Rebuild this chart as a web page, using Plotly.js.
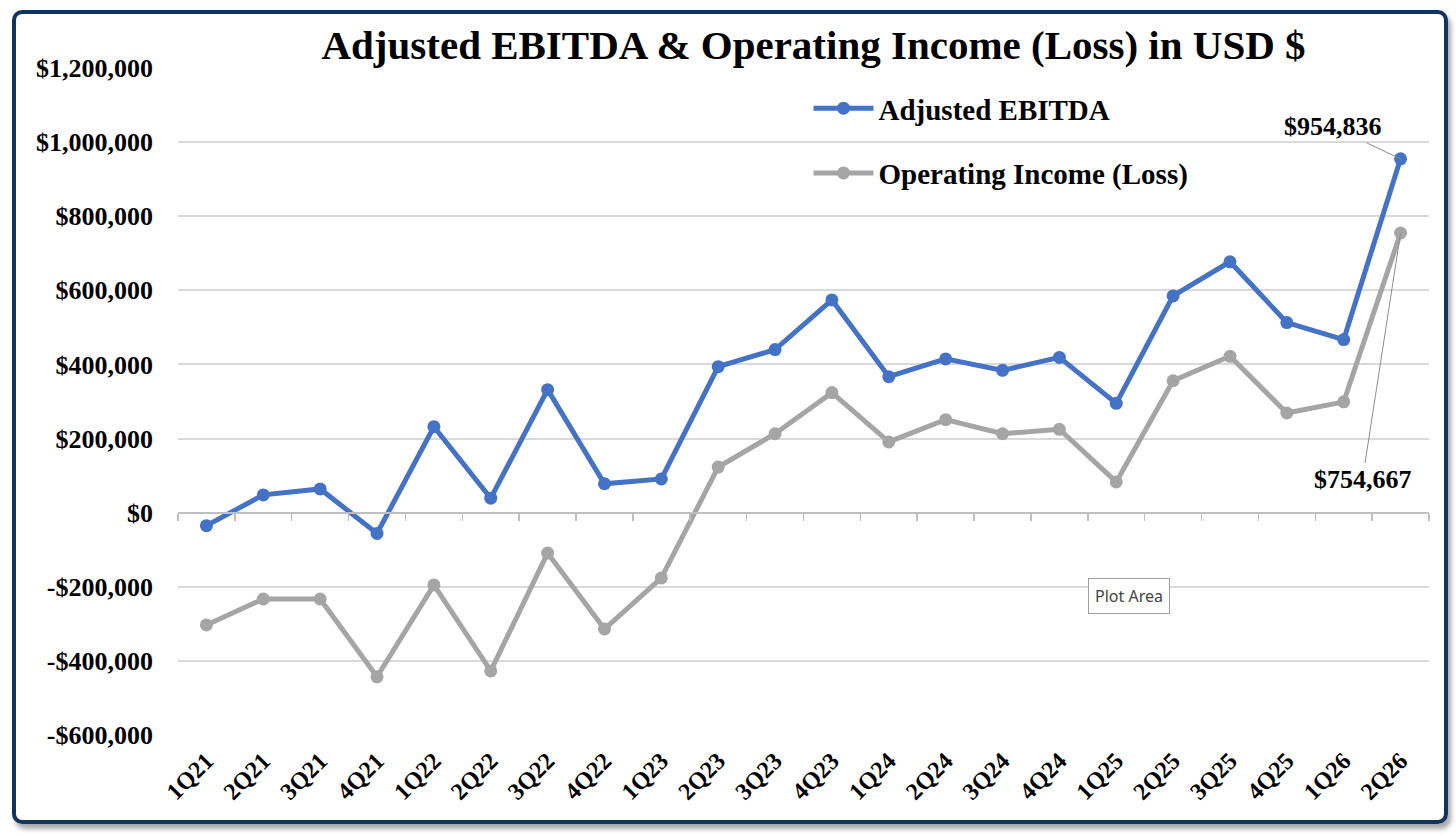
<!DOCTYPE html>
<html>
<head>
<meta charset="utf-8">
<script src="https://cdn.plot.ly/plotly-3.0.1.min.js"></script>
<style>
  html, body { margin: 0; padding: 0; background: #ffffff; }
  #wrap { position: relative; width: 1456px; height: 836px; }
  #chart { position: absolute; left: 0; top: 0; width: 1456px; height: 836px; }
  #frame {
    position: absolute; left: 12px; top: 10px; width: 1428px; height: 806px;
    border: 4px solid #12325f; border-radius: 10px;
    box-shadow: 3px 5px 5px rgba(0,0,0,0.35);
    pointer-events: none;
  }
</style>
</head>
<body>
<div id="wrap">
  <div id="chart"></div>
  <div id="frame"></div>
</div>
<script>
const quarters = ['1Q21','2Q21','3Q21','4Q21','1Q22','2Q22','3Q22','4Q22','1Q23','2Q23','3Q23','4Q23',
                  '1Q24','2Q24','3Q24','4Q24','1Q25','2Q25','3Q25','4Q25','1Q26','2Q26'];
const adjustedEbitda = [-35000, 48000, 64000, -56000, 232000, 39000, 332000, 78000, 91000, 394000, 440000, 574000,
                        367000, 415000, 384000, 419000, 295000, 585000, 677000, 513000, 467000, 954836];
const operatingIncome = [-303000, -233000, -233000, -443000, -195000, -427000, -109000, -314000, -176000, 123000, 213000, 324000,
                         191000, 251000, 213000, 225000, 83000, 356000, 422000, 269000, 299000, 754667];
const yTickVals = [-600000, -400000, -200000, 0, 200000, 400000, 600000, 800000, 1000000, 1200000];
const yTickLabels = ['-$600,000','-$400,000','-$200,000','$0','$200,000','$400,000','$600,000','$800,000','$1,000,000','$1,200,000'];

const SERIF = '"Liberation Serif", "Times New Roman", "DejaVu Serif", serif';
const fmt = v => '$' + v.toLocaleString('en-US');
const last = quarters.length - 1;

const traces = [
  {
    type: 'scatter', mode: 'lines+markers', name: 'Adjusted EBITDA',
    x: quarters, y: adjustedEbitda, xaxis: 'x2', yaxis: 'y',
    line: { color: '#4472C4', width: 5 },
    marker: { color: '#4472C4', size: 13 },
    legend: 'legend', hoverinfo: 'skip'
  },
  {
    type: 'scatter', mode: 'lines+markers', name: 'Operating Income (Loss)',
    x: quarters, y: operatingIncome, xaxis: 'x', yaxis: 'y',
    line: { color: '#A5A5A5', width: 5 },
    marker: { color: '#A5A5A5', size: 13 },
    legend: 'legend2', hoverinfo: 'skip'
  }
];

const legendFont = { family: SERIF, size: 29, color: '#000', weight: 'bold' };

const layout = {
  width: 1456, height: 836,
  margin: { l: 178, r: 27, t: 68, b: 101 },
  paper_bgcolor: 'rgba(0,0,0,0)', plot_bgcolor: 'rgba(0,0,0,0)',
  title: {
    text: 'Adjusted EBITDA & Operating Income (Loss) in USD $',
    font: { family: SERIF, size: 41, color: '#000', weight: 'bold' },
    xref: 'paper', x: 0.508, xanchor: 'center',
    yref: 'container', y: 0.947, yanchor: 'middle'
  },
  // axis line with tick marks at the zero level (no labels)
  xaxis: {
    type: 'category', categoryarray: quarters, range: [-0.5, quarters.length - 0.5],
    anchor: 'free', position: 1/3,
    showgrid: false, zeroline: false, showline: true, linecolor: '#BFBFBF', linewidth: 2,
    ticks: 'outside', tickson: 'boundaries', ticklen: 7, tickwidth: 1.5, tickcolor: '#BFBFBF',
    showticklabels: false
  },
  // category labels at the bottom of the plot area
  xaxis2: {
    type: 'category', categoryarray: quarters, range: [-0.5, quarters.length - 0.5],
    overlaying: 'x', matches: 'x', anchor: 'y', side: 'bottom',
    showgrid: false, zeroline: false, showline: false, ticks: '',
    tickangle: -45, ticklabelstandoff: 6,
    tickfont: { family: SERIF, size: 24, color: '#000', weight: 'bold' }
  },
  yaxis: {
    range: [-600000, 1200000], tickvals: yTickVals, ticktext: yTickLabels,
    showgrid: true, gridcolor: '#D9D9D9', gridwidth: 2,
    zeroline: false, showline: false, ticks: '', ticklabelstandoff: 24,
    tickfont: { family: SERIF, size: 26, color: '#000', weight: 'bold' }
  },
  showlegend: true,
  legend: {
    x: 0.504, y: 0.9395, xanchor: 'left', yanchor: 'middle', xref: 'paper', yref: 'paper',
    bgcolor: 'rgba(0,0,0,0)', borderwidth: 0, itemwidth: 60, font: legendFont
  },
  legend2: {
    x: 0.504, y: 0.8425, xanchor: 'left', yanchor: 'middle', xref: 'paper', yref: 'paper',
    bgcolor: 'rgba(0,0,0,0)', borderwidth: 0, itemwidth: 60, font: legendFont
  },
  annotations: [
    {
      x: quarters[last], y: adjustedEbitda[last], xref: 'x', yref: 'y',
      text: fmt(adjustedEbitda[last]), showarrow: true, arrowhead: 0, arrowwidth: 1,
      arrowcolor: '#8C8C8C', ax: -68, ay: -32, standoff: 0,
      font: { family: SERIF, size: 26, color: '#000', weight: 'bold' }
    },
    {
      x: quarters[last], y: operatingIncome[last], xref: 'x', yref: 'y',
      text: fmt(operatingIncome[last]), showarrow: true, arrowhead: 0, arrowwidth: 1,
      arrowcolor: '#8C8C8C', ax: -38, ay: 246, standoff: 0,
      font: { family: SERIF, size: 26, color: '#000', weight: 'bold' }
    },
    {
      xref: 'paper', yref: 'paper', x: 0.760, y: 0.2084, xanchor: 'center', yanchor: 'middle',
      text: 'Plot Area', showarrow: false, bgcolor: '#FFFFFF', bordercolor: '#A0A0A0',
      borderwidth: 1, borderpad: 6,
      font: { family: '"Noto Sans", "Open Sans", sans-serif', size: 16, color: '#444' }
    }
  ]
};

Plotly.newPlot('chart', traces, layout, { displayModeBar: false, staticPlot: true });
</script>
</body>
</html>
